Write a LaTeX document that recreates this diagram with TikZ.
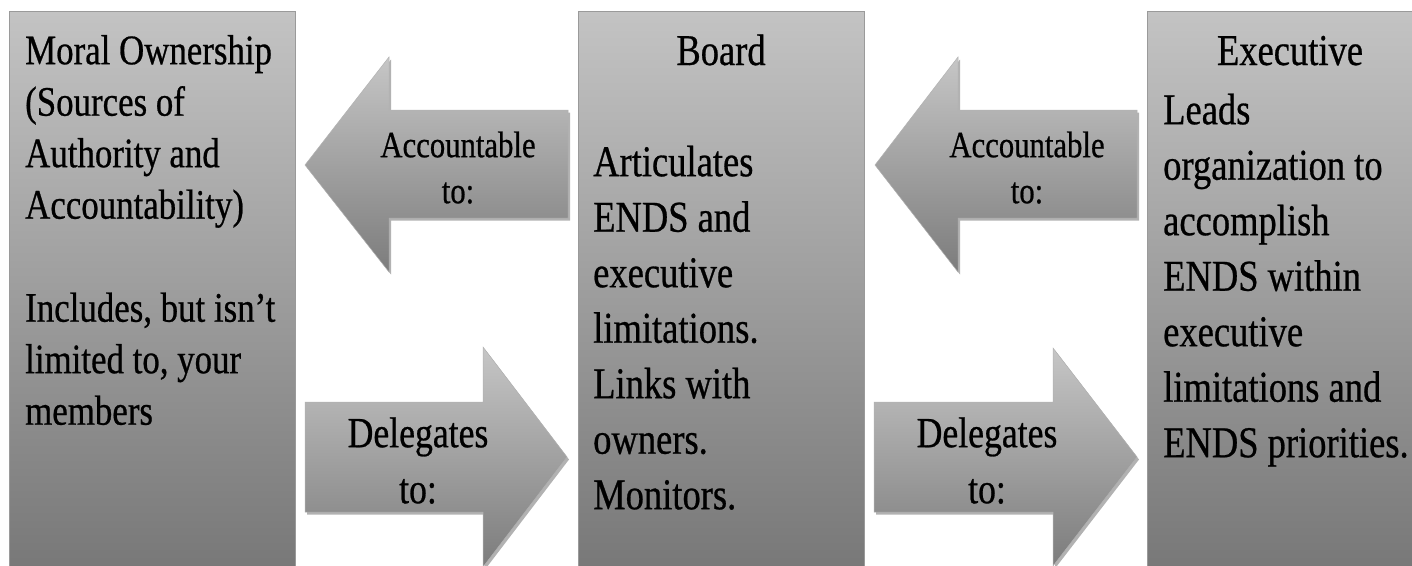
\documentclass[tikz,border=0pt]{standalone}
\usepackage{fontspec}
\setmainfont{Liberation Serif}[FakeStretch=0.83, FakeBold=0.6]
\usetikzlibrary{shadows}

\definecolor{boxtop}{HTML}{C3C3C3}
\definecolor{boxbot}{HTML}{777777}
\definecolor{boxedge}{HTML}{9A9A9A}
\definecolor{arrtop}{HTML}{C6C6C6}
\definecolor{arrbot}{HTML}{7C7C7C}

\tikzset{
  panel/.style={draw=boxedge, line width=1.4pt, top color=boxtop, bottom color=boxbot,
    anchor=north west, inner sep=0pt, minimum width=286pt, minimum height=564pt},
  blockarrow/.style={draw=black!30, line width=0.5pt, top color=arrtop, bottom color=arrbot,
    drop shadow={shadow xshift=2pt, shadow yshift=-2.5pt, opacity=0.3, fill=black}},
  smalltext/.style={anchor=north west, align=left, inner sep=0pt,
    font=\fontsize{42}{51.5}\selectfont},
  bigtext/.style={anchor=north west, align=left, inner sep=0pt,
    font=\fontsize{44}{55.5}\selectfont},
  titletext/.style={anchor=base, inner sep=0pt, font=\fontsize{44}{55.5}\selectfont},
  acctext/.style={anchor=north, align=center, inner sep=0pt, font=\fontsize{37}{46}\selectfont},
  deltext/.style={anchor=north, align=center, inner sep=0pt, font=\fontsize{43}{56}\selectfont},
}

\begin{document}
\begin{tikzpicture}[x=1pt,y=-1pt]
\useasboundingbox (0,0) rectangle (1412,565);
\clip (0,0) rectangle (1412,565);
\fill[white] (0,0) rectangle (1412,565);

% the three panels
\node[panel] (owner) at (9,11) {};
\node[panel] (board) at (578,11) {};
\node[panel] (exec) at (1147,11) {};

% panel texts
\node[smalltext] (ownertxt) at (25,31) {\rule{0pt}{33pt}Moral Ownership\\(Sources of\\Authority and\\Accountability)\\[51.5pt]Includes, but isn’t\\limited to, your\\members};

\node[titletext] (boardtitle) at (721,65) {Board};
\node[bigtext] (boardtxt) at (593,142) {\rule{0pt}{34pt}Articulates\\ENDS and\\executive\\limitations.\\Links with\\owners.\\Monitors.};

\node[titletext] (exectitle) at (1290,65) {Executive};
\node[bigtext] (exectxt) at (1163,90) {\rule{0pt}{34pt}Leads\\organization to\\accomplish\\ENDS within\\executive\\limitations and\\ENDS priorities.};

% block arrows between owner and board
\draw[blockarrow] (305,165) -- (389,57) -- (389,110) -- (568,110) -- (568,218)
  -- (389,218) -- (389,272) -- cycle;
\node[acctext] (acc1) at (458,127) {\rule{0pt}{30pt}Accountable\\to:};

\draw[blockarrow] (305,402) -- (483,402) -- (483,347) -- (567,457) -- (483,567)
  -- (483,512) -- (305,512) -- cycle;
\node[deltext] (del1) at (418,413) {\rule{0pt}{34pt}Delegates\\to:};

% block arrows between board and executive
\draw[blockarrow] (875,165) -- (958,57) -- (958,110) -- (1137,110) -- (1137,218)
  -- (958,218) -- (958,272) -- cycle;
\node[acctext] (acc2) at (1027,127) {\rule{0pt}{30pt}Accountable\\to:};

\draw[blockarrow] (874,402) -- (1053,402) -- (1053,348) -- (1137,457) -- (1053,566)
  -- (1053,512) -- (874,512) -- cycle;
\node[deltext] (del2) at (987,413) {\rule{0pt}{34pt}Delegates\\to:};
\end{tikzpicture}
\end{document}
